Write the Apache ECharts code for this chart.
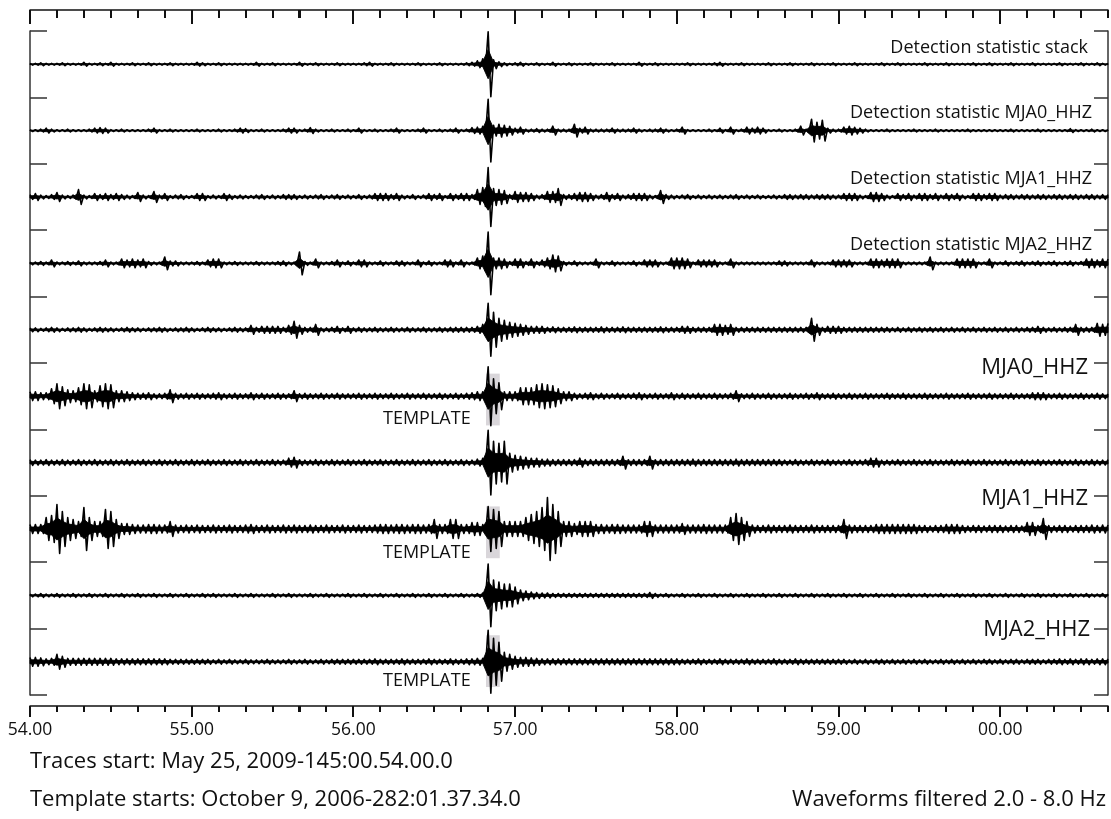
<!DOCTYPE html>
<html>
<head>
<meta charset="utf-8">
<script src="https://cdn.jsdelivr.net/npm/echarts@6/dist/echarts.min.js"></script>
<style>
html,body{margin:0;padding:0;background:#fff;}
#chart{width:1111px;height:819px;}
</style>
</head>
<body>
<div id="chart"></div>
<script>
// ---------------- DATA ----------------
// time axis: minutes (54.00 ... 00.40), samples every 2 s
const TRACE_START_MIN = 54;
const SAMPLE_STEP_MIN = 2 / 60;
const WINDOW_END_MIN = 54 + 400 / 60;
const TICK_LABELS = ['54.00', '55.00', '56.00', '57.00', '58.00', '59.00', '00.00'];
const MINOR_PER_MAJOR = 6;   // a tick every 10 s

// envelope amplitudes (relative units, 66.4 units = one trace spacing), one value per 2 s sample
const AMP_DETECTION_STACK = [
  1.5,1.5,2,1.5,1.5,1.5,2,1.5,1.5,1.5, 2.5,1.5,1.5,2,1.5,2.5,1.5,1.5,1.5,2, 1.5,1.5,2,1.5,1.5,1.5,2,1.5,1.5,1.5,
  1.5,2.5,2,1.5,1.5,2,1.5,1.5,1.5,1.5, 1.5,1.5,2.5,1.5,1.5,2,1.5,1.5,1.5,1.5, 2.5,1.5,1.5,2,1.5,1.5,1.5,2,1.5,1.5,
  1.5,1.5,2,2.5,1.5,1.5,1.5,2,1.5,1.5, 1.5,1.5,2,1.5,1.5,1.5,2,1.5,1.5,1.5, 1.5,2,2.5,4,6,33,5,3,2,1.5,
  2,2.5,1.5,1.5,2,1.5,1.5,2.5,1.5,1.5, 2,1.5,1.5,1.5,2,1.5,1.5,1.5,2,1.5, 1.5,1.5,1.5,2.5,1.5,1.5,2,1.5,1.5,1.5,
  1.5,1.5,2,1.5,1.5,1.5,1.5,2,2.5,1.5, 1.5,1.5,2,1.5,1.5,1.5,1.5,2,1.5,1.5, 1.5,2,1.5,1.5,1.5,2,1.5,1.5,1.5,2,
  1.5,1.5,1.5,2,1.5,1.5,1.5,1.5,2,1.5, 1.5,2,1.5,1.5,1.5,1.5,2,1.5,1.5,1.5, 2,1.5,1.5,1.5,1.5,2,1.5,1.5,2,1.5,
  1.5,1.5,2,1.5,1.5,1.5,2,1.5,1.5,1.5, 1.5,2,1.5,1.5,1.5,2,1.5,1.5,2,1.5, 1.5
];
const AMP_DETECTION_MJA0 = [
  1.5,1.5,2,3,2,1.5,1.5,2,1.5,1.5, 1.5,2,3,3.5,3,1.5,1.5,2,1.5,1.5, 1.5,1.5,2,3,1.5,1.5,2,1.5,1.5,1.5,
  1.5,2,1.5,1.5,1.5,2,1.5,1.5,2,3, 2.5,1.5,1.5,2,1.5,1.5,1.5,2,3,3, 1.5,2,3.5,2,1.5,1.5,2,1.5,1.5,2,
  1.5,3,1.5,1.5,2,1.5,1.5,2,3,1.5, 1.5,1.5,2,3,1.5,1.5,2,1.5,2,3, 1.5,2,3.5,4,5,32,6,7,6,5,
  3,4,2,2,2.5,2,2,5,2,2, 2,7,3,4,2,2,2,2,3,2, 2,2,3,2,1.5,2,2,3,2,1.5,
  2,4,1.5,1.5,1.5,1.5,2,1.5,3,1.5, 4,1.5,2,4,3,4,3,1.5,1.5,2, 1.5,1.5,2,5,2,12,9,11,3,2,
  2,4,5,4,3,2,1.5,1.5,1.5,2, 1.5,1.5,1.5,1.5,2,1.5,1.5,1.5,2,1.5, 1.5,1.5,1.5,1.5,2,1.5,1.5,1.5,1.5,1.5,
  1.5,1.5,2,1.5,1.5,1.5,1.5,2,1.5,1.5, 1.5,1.5,1.5,2.5,1.5,1.5,1.5,2,1.5,1.5, 1.5
];
const AMP_DETECTION_MJA1 = [
  3,4,2.5,2,3,5,2.5,2,2.5,8, 2.5,2,4,3,4,3,4,3,2.5,2, 5,2.5,2,6,2.5,4,2,2.5,3,2,
  2,4,4,2,2.5,2,4,3,2,2.5, 2,2,2.5,3,2,2.5,2,3,3,3, 2,2.5,2,2.5,3,2,2.5,3,2,2.5,
  2,3,2,2.5,4,4,4,3,4,2.5, 2,3,2,2.5,4,3,4,2,4,3, 4,4,3,8,10,30,9,8,7,3,
  6,5,5,4,2.5,3,6,6,9,3, 3,4,5,5,4,2.5,3,5,3,4, 2.5,3,4,4,4,2.5,2,7,3,2.5,
  2,2.5,3,2,2.5,2,2.5,2,2.5,2, 2.5,3,2,2.5,2,2.5,2,2,2.5,2, 3,3,2.5,3,3,2.5,3,3,3,2.5,
  2.5,4,4,4,2.5,2,5,5,4,2.5, 2,4,3,4,2.5,4,4,3,4,2.5, 4,3,4,2.5,2,4,4,3,4,4,
  2.5,3,3,2.5,3,3,2.5,3,3,2.5, 3,3,2.5,3,3,2.5,3,3,2.5,3, 3
];
const AMP_DETECTION_MJA2 = [
  2,2,2.5,2,4,2,2,2.5,2,3, 2,2,2,2.5,4,2,2,5,4,5, 4,5,2.5,2,2,7,3,3,2,2,
  2,2.5,2,4,5,5,2,2,2.5,2, 2,2,2.5,2,2,2,2.5,3,2,2, 12,2.5,2,5,2,2,2.5,4,2,3,
  2,4,4,2,2,3,2,2,3,3, 2,2,4,2,3,2,2,4,4,2, 4,2,2,6,8,32,6,6,5,2.5,
  5,5,2.5,5,2.5,4,6,9,8,2.5, 2,3,2,2,2,5,2,2,3,2, 2,2,3,2,4,4,4,2,2,6,
  6,6,5,2,4,4,4,4,2,2, 5,2,2,2,2,2,2,2,2,3, 3,2,2,2,2,4,2,2,2,4,
  4,4,4,2,2,2,5,5,4,5, 5,5,2,2,2,2,2,7,2,2, 2,2,5,5,5,5,2,2,5,2,
  2,3,2,2.5,3,2,2.5,3,2,2.5, 3,2,2.5,3,2,2.5,5,5,4,5, 5
];
const AMP_MJA0_UPPER = [
  2.5,2.5,2,2.5,3,2.5,2,2.5,2.5,3, 2.5,2,2.5,3,2.5,2.5,2,2.5,3,2.5, 2.5,2,2.5,2.5,3,2.5,2,2.5,2.5,3,
  2.5,2,2.5,3,2.5,2.5,2,2.5,3,2.5, 2.5,5,3,4,4,4,4,3,5,9, 5,3,3,6,2.5,2.5,3,4,2.5,4,
  2.5,3,2.5,2.5,3,2.5,2.5,3,2.5,2.5, 3,2.5,2.5,3,2.5,2.5,3,2.5,3,3, 3,3,3,4,6,27,18,12,10,8,
  7,6,5,4,4,4,3,3.5,3,3, 3,3.5,3,3,3,3,3.5,3,3,3, 3.5,3,3,3,3,3,3,3.5,3,3,
  3,4,4,3,3,3,3,6,6,5, 6,3,3,3,3,3,3,3,3,3, 3,3,3,3,3,12,6,3,4,4,
  4,3,3,3,3,3,3,3,3,3, 2.5,3,2.5,3,2.5,3,2.5,3,2.5,3, 2.5,3,2.5,3,2.5,3,2.5,3,2.5,3,
  2.5,3,2.5,3,2.5,3,3,4,3,2.5, 3,2.5,3,3,6,3,3,3,7,6, 7
];
const AMP_MJA0_LOWER = [
  5,5,4,4,8,13,10,7,6,9, 13,12,6,11,13,12,6,6,5,4, 3.5,3.5,4,3,3,3.5,7,3.5,3,3.5,
  3,3.5,3,3,3.5,4,3,3,3.5,3, 3,4,3,3.5,3,3,3.5,3,3,6, 3,3.5,3,3,3.5,3,3,3.5,3,3,
  3,3.5,3,3,3.5,3,3,3.5,3,3, 3.5,3,3,3.5,3,3,3.5,3,3,3.5, 3,3.5,4,5,5,30,18,14,5,5,
  5,9,9,9,12,13,12,11,8,5, 5,3.5,3,3.5,4,3,3.5,3,3,3.5, 3,3,3.5,4,3,3,3.5,3,3,4,
  3,3.5,3,3,3.5,3,3,3.5,3,3, 3.5,6,3,3,3.5,3,3,3.5,3,3, 3,3.5,3,3,3.5,3,4,3,3,3.5,
  3,3,3.5,3,3,3.5,3,3,3,3.5, 3,3,3.5,3,3,3,3.5,3,3,3, 3.5,3,3,3,3.5,3,3,3,3.5,3,
  3,3,3.5,3,3,3,4,4,4,3, 3,3.5,3,3,3,3.5,3,3,3.5,3, 3
];
const AMP_MJA1_UPPER = [
  3.5,3,3,3.5,3,3,3.5,3,3,3.5, 3,3,3.5,3,3,3.5,3,3,3.5,3, 3,3.5,3,3,3.5,3,3,3.5,3,3,
  3.5,3,3,3.5,3,3,3.5,3,3,3.5, 3,3,3.5,3,3,3.5,3,3,5,6, 3.5,3,3,3.5,3,3,3.5,3,3,3.5,
  3,3,3.5,3,3,3.5,3,3,3.5,3, 3,3.5,3,3,3.5,3,3,3.5,3,3, 3.5,3,3,4,5,33,22,20,22,10,
  8,7,6,5,5,4,4,3.5,3.5,3.5, 3.5,3.5,5,3.5,3.5,3.5,3.5,3.5,3.5,3.5, 7,3.5,3.5,3.5,3.5,7,3.5,3.5,3.5,3.5,
  3.5,3.5,3.5,4,3.5,3.5,3.5,3.5,3.5,3.5, 3.5,4,3.5,3.5,3.5,3.5,3.5,3.5,3.5,3.5, 3,3,3.5,3,3,3.5,3,3,3.5,3,
  3,3,3.5,3,3,3.5,5,5,3,3, 3,3.5,3,3,3.5,3,3,3.5,3,3, 3,3.5,3,3,3.5,3,3,3.5,3,3,
  3,3.5,3,3,3.5,3,3,3.5,3,3, 3,3.5,3,3,3.5,3,3,3.5,3,3, 3.5
];
const AMP_MJA1_LOWER = [
  5,5,5,12,14,25,18,12,10,8, 22,12,8,8,20,18,10,6,6,5, 4.5,4.5,5,5,4.5,4.5,8,4.5,4,4.5,
  4,4.5,4,4,4.5,4,4,4.5,4,4, 4.5,5,4,4,4.5,4,4,4.5,4,4.5, 4,4,4.5,4,4,4.5,4,4,4.5,4,
  4,4.5,4,4,4.5,5,5,4.5,5,5, 4.5,5,5,4.5,5,10,5,5,10,10, 5,5,7,7,5,23,20,18,8,8,
  8,8,12,15,18,22,32,25,18,8, 8,6,8,8,8,5,5,4.5,5,5, 4.5,4.5,4.5,4.5,8,8,4.5,4.5,4.5,4.5,
  4.5,6,4.5,4.5,4.5,5,4.5,4.5,4.5,4.5, 12,16,12,8,4.5,4,4,4.5,4,4, 4,4.5,4,4,4,4.5,4,4,4,4,
  4,10,4.5,4,4,4,4,5,5,5, 5,5,5,5,5,4,4,3.5,4,4, 5,5,5,4,3.5,4,4,3.5,4,4,
  4,3.5,4,4,3.5,7,7,4,11,4, 3.5,4,4,3.5,4,4,4,4.5,4,4.5, 4.5
];
const AMP_MJA2_UPPER = [
  2,2,2.5,2,2,2.5,2,2,2.5,2, 2,2.5,2,2,2.5,2,2,2.5,2,2, 2.5,2,2,2.5,2,2,2.5,2,2,2.5,
  2,2,2.5,2,2.5,2,2,2,2.5,2, 2,2.5,2,2,2,2.5,2,2,2.5,2, 2,2,2.5,2,2,2.5,2,2,2,2.5,
  2,2,2.5,2,2,2.5,2,2,2.5,2, 2,2.5,2,2,2.5,2,2,2.5,2,2, 2.5,2,2,2.5,3,32,16,14,12,12,
  9,6,5,4,3.5,3,3,2.5,2.5,2.5, 2.5,2.5,2.5,2.5,2.5,2.5,2.5,2.5,2.5,2.5, 2.5,2.5,2.5,2.5,2.5,3.5,2.5,2,2.5,2,
  2,2.5,2,2,2.5,2,2,2.5,2,2, 2.5,2,2,2.5,2,2,2.5,2,2,2.5, 2,2,2.5,2,2,2.5,2,2,2.5,2,
  2,2.5,2,2,2.5,2,2,2.5,2,2, 2.5,2,2,2.5,2,2,2.5,2,2,2.5, 2,2,2.5,2,2,2.5,2,2,2.5,2,
  2,2.5,2,2,2.5,2,2,2.5,2,2, 2.5,2,2,2.5,2,2,2.5,2,2,2.5, 2
];
const AMP_MJA2_LOWER = [
  5,5,4.5,3.5,4,8,6,4,4,4, 4,4,4,4,4,4,3.5,3.5,3.5,3.5, 3.5,3.5,3.5,3.5,3.5,3.5,3,3,3,3,
  3,3,3,3,2.5,3,2.5,3,2.5,2.5, 3,2.5,2.5,2.5,3,2.5,2.5,2.5,3,2.5, 2.5,3,2.5,2.5,3,2.5,3,3,3,3,
  3,3,3,3,3.5,3,3,3,3,3.5, 3,3,3,3,3.5,3,3,3,3.5,3, 3,3.5,3.5,4,4,32,24,20,10,8,
  6,5,5,4.5,4,3.5,3.5,3.5,3.5,3.5, 3.5,3.5,3.5,3.5,3.5,3.5,3.5,3.5,3.5,3.5, 3.5,3.5,3.5,3.5,3.5,3.5,3.5,3.5,3.5,3.5,
  3.5,3,3,3,3.5,3,3,3,3.5,3, 3,3,3,3.5,3,3,3,3,3.5,3, 3,3,3.5,3,3,3,3,3,3,3,
  3,3,2.5,3,2.5,3,2.5,3,3,2.5, 3,2.5,3,2.5,3,2.5,3,2.5,2.5,3, 2.5,3,2.5,3,2.5,3,2.5,3,3,2.5,
  3,2.5,3,3,2.5,3,3,3,2.5,3, 3,3.5,3,3.5,3,3.5,3.5,3,3.5,3.5, 3.5
];

// traces from top to bottom
const TRACES = [
  AMP_DETECTION_STACK, AMP_DETECTION_MJA0, AMP_DETECTION_MJA1, AMP_DETECTION_MJA2,
  AMP_MJA0_UPPER, AMP_MJA0_LOWER, AMP_MJA1_UPPER, AMP_MJA1_LOWER, AMP_MJA2_UPPER, AMP_MJA2_LOWER
];
// template windows (minutes) and the trace each is shown on
const TEMPLATE_TRACES = [5, 7, 9];
const TEMPLATE_WINDOW = [56.82, 56.905];

const TRACE_LABELS = ['Detection statistic stack', 'Detection statistic MJA0_HHZ',
  'Detection statistic MJA1_HHZ', 'Detection statistic MJA2_HHZ'];
const STATION_LABELS = ['MJA0_HHZ', 'MJA1_HHZ', 'MJA2_HHZ'];
const TEMPLATE_LABEL = 'TEMPLATE';
const FOOTER_LEFT = ['Traces start: May 25, 2009-145:00.54.00.0',
  'Template starts: October 9, 2006-282:01.37.34.0'];
const FOOTER_RIGHT = 'Waveforms filtered 2.0 - 8.0 Hz';

// ---------------- LAYOUT / STYLE ----------------
const FONT = '"Open Sans", "Noto Sans", sans-serif';
const INK = '#111';
const AMP_PER_SLOT = 66.4;   // amplitude units per trace spacing
const PEN_HALF = 0.6;        // half pen width in amplitude units
const CORE_FRAC = 0.45;      // solid core drawn under the oscillation
const TEMPLATE_BOX = [[0.34, 0.44], [0.34, 0.44], [0.40, 0.38]];
const TICK_LEN = { bottomMajor: 11, bottomMinor: 6, topMajor: 14, topMinor: 8 };
const TICK_WIDTH = 2;
const N_SLOTS = TRACES.length;

function slotCenter(k) { return N_SLOTS - 0.5 - k; }

function renderTrace(params, api) {
  const k = api.value(0);
  const amps = TRACES[k];
  const c = slotCenter(k);
  const zig = [], coreUp = [], coreDn = [];
  for (let i = 0; i < amps.length; i++) {
    const t = TRACE_START_MIN + i * SAMPLE_STEP_MIN;
    const a = Math.max(amps[i] - PEN_HALF, 0.3) / AMP_PER_SLOT;
    const ac = CORE_FRAC * a;
    zig.push(api.coord([t, c + a]));
    if (i < amps.length - 1) zig.push(api.coord([t + SAMPLE_STEP_MIN / 2, c - a]));
    coreUp.push(api.coord([t, c + ac]));
    coreDn.push(api.coord([t, c - ac]));
  }
  return {
    type: 'group',
    children: [
      { type: 'polygon', shape: { points: coreUp.concat(coreDn.reverse()) },
        style: { fill: '#000', stroke: '#000', lineWidth: 0.9 } },
      { type: 'polyline', shape: { points: zig },
        style: { stroke: '#000', lineWidth: 1.6, fill: null, lineJoin: 'round' } }
    ]
  };
}

function renderTemplate(params, api) {
  const j = params.dataIndex;
  const k = api.value(0);
  const c = slotCenter(k);
  const p0 = api.coord([TEMPLATE_WINDOW[0], c + TEMPLATE_BOX[j][0]]);
  const p1 = api.coord([TEMPLATE_WINDOW[1], c - TEMPLATE_BOX[j][1]]);
  return {
    type: 'rect',
    shape: { x: p0[0], y: p0[1], width: p1[0] - p0[0], height: p1[1] - p0[1] },
    style: { fill: '#d9d6da' }
  };
}

// time-axis ticks: every 10 s, longer on whole minutes
const TIME_TICKS = [];
for (let n = 0; TRACE_START_MIN + n / MINOR_PER_MAJOR <= WINDOW_END_MIN + 1e-9; n++) {
  TIME_TICKS.push([TRACE_START_MIN + n / MINOR_PER_MAJOR, n % MINOR_PER_MAJOR === 0 ? 1 : 0]);
}
function renderTick(params, api) {
  const v = api.value(0);
  const major = api.value(1) === 1;
  const pb = api.coord([v, 0]);
  const pt = api.coord([v, 1]);
  const x = Math.round(pb[0]);
  const lb = major ? TICK_LEN.bottomMajor : TICK_LEN.bottomMinor;
  const lt = major ? TICK_LEN.topMajor : TICK_LEN.topMinor;
  return {
    type: 'group',
    children: [
      { type: 'line', shape: { x1: x, y1: pb[1], x2: x, y2: pb[1] + lb },
        style: { stroke: INK, lineWidth: TICK_WIDTH, fill: null } },
      { type: 'line', shape: { x1: x, y1: pt[1], x2: x, y2: pt[1] + lt },
        style: { stroke: INK, lineWidth: TICK_WIDTH, fill: null } }
    ]
  };
}

function tickLabel(v) {
  const k = Math.round(v - TRACE_START_MIN);
  if (Math.abs(v - TRACE_START_MIN - k) > 1e-6) return '';
  return TICK_LABELS[k] || '';
}

function timeAxis(position, labels) {
  return {
    type: 'value', gridIndex: 1, position: position,
    min: TRACE_START_MIN, max: WINDOW_END_MIN, interval: 1,
    splitLine: { show: false },
    axisLine: { show: true, onZero: false, lineStyle: { color: INK, width: 1.5 } },
    axisTick: { show: false },
    axisLabel: labels
      ? { show: true, formatter: tickLabel, margin: 15, fontSize: 17.5, fontFamily: FONT, color: INK }
      : { show: false }
  };
}
function slotAxis(position, tickLen) {
  return {
    type: 'value', gridIndex: 0, position: position, min: 0, max: N_SLOTS, interval: 1,
    axisLine: { show: true, onZero: false, lineStyle: { color: '#333', width: 1.5 } },
    axisTick: { show: true, inside: true, length: tickLen, lineStyle: { color: '#333', width: 1.5 } },
    axisLabel: { show: false }, splitLine: { show: false }
  };
}

function text(str, x, y, size, align) {
  return { type: 'text', silent: true,
    style: { text: str, x: x, y: y, align: align, verticalAlign: 'middle',
      fontSize: size, fontFamily: FONT, fill: INK } };
}

const labelPos = {
  trace: [[1088, 48], [1092, 113], [1092, 179], [1092, 245]],
  station: [[1088, 368], [1088, 499], [1090, 630]],
  template: [[383, 419], [383, 553], [383, 681]],
  footerLeft: [[30, 762], [30, 800]],
  footerRight: [1106, 800]
};

const elements = [];
TRACE_LABELS.forEach((s, i) => elements.push(text(s, labelPos.trace[i][0], labelPos.trace[i][1], 18, 'right')));
STATION_LABELS.forEach((s, i) => elements.push(text(s, labelPos.station[i][0], labelPos.station[i][1], 22, 'right')));
labelPos.template.forEach(p => elements.push(text(TEMPLATE_LABEL, p[0], p[1], 18, 'left')));
FOOTER_LEFT.forEach((s, i) => elements.push(text(s, labelPos.footerLeft[i][0], labelPos.footerLeft[i][1], 22, 'left')));
elements.push(text(FOOTER_RIGHT, labelPos.footerRight[0], labelPos.footerRight[1], 22, 'right'));

const chart = echarts.init(document.getElementById('chart'));
chart.setOption({
  animation: false,
  grid: [
    { left: 30, right: 3, top: 31, bottom: 124 },   // traces
    { left: 30, right: 3, top: 10, bottom: 113 }    // time frame
  ],
  xAxis: [
    { type: 'value', gridIndex: 0, min: TRACE_START_MIN, max: WINDOW_END_MIN, show: false },
    timeAxis('bottom', true),
    timeAxis('top', false)
  ],
  yAxis: [
    slotAxis('left', 17),
    slotAxis('right', 14),
    { type: 'value', gridIndex: 1, min: 0, max: 1, show: false }
  ],
  series: [
    { type: 'custom', name: 'timeTicks', xAxisIndex: 1, yAxisIndex: 2, clip: false, z: 5,
      renderItem: renderTick, data: TIME_TICKS },
    { type: 'custom', name: 'templates', xAxisIndex: 0, yAxisIndex: 0, z: 1,
      renderItem: renderTemplate, data: TEMPLATE_TRACES.map(k => [k]) },
    { type: 'custom', name: 'traces', xAxisIndex: 0, yAxisIndex: 0, z: 2,
      renderItem: renderTrace, data: TRACES.map((_, k) => [k]) }
  ]
});

// tick marks also placed through the time axis scale as graphic elements (drawn on top)
const yBottom = chart.convertToPixel({ yAxisIndex: 2 }, 0);
const yTop = chart.convertToPixel({ yAxisIndex: 2 }, 1);
TIME_TICKS.forEach(([v, major]) => {
  const x = Math.round(chart.convertToPixel({ xAxisIndex: 1 }, v));
  elements.push({ type: 'line', z: 100,
    shape: { x1: x, y1: yBottom, x2: x, y2: yBottom + (major ? TICK_LEN.bottomMajor : TICK_LEN.bottomMinor) },
    style: { stroke: INK, lineWidth: TICK_WIDTH, fill: null } });
  elements.push({ type: 'line', z: 100,
    shape: { x1: x, y1: yTop, x2: x, y2: yTop + (major ? TICK_LEN.topMajor : TICK_LEN.topMinor) },
    style: { stroke: INK, lineWidth: TICK_WIDTH, fill: null } });
});
chart.setOption({ graphic: { elements: elements } });
</script>
</body>
</html>
